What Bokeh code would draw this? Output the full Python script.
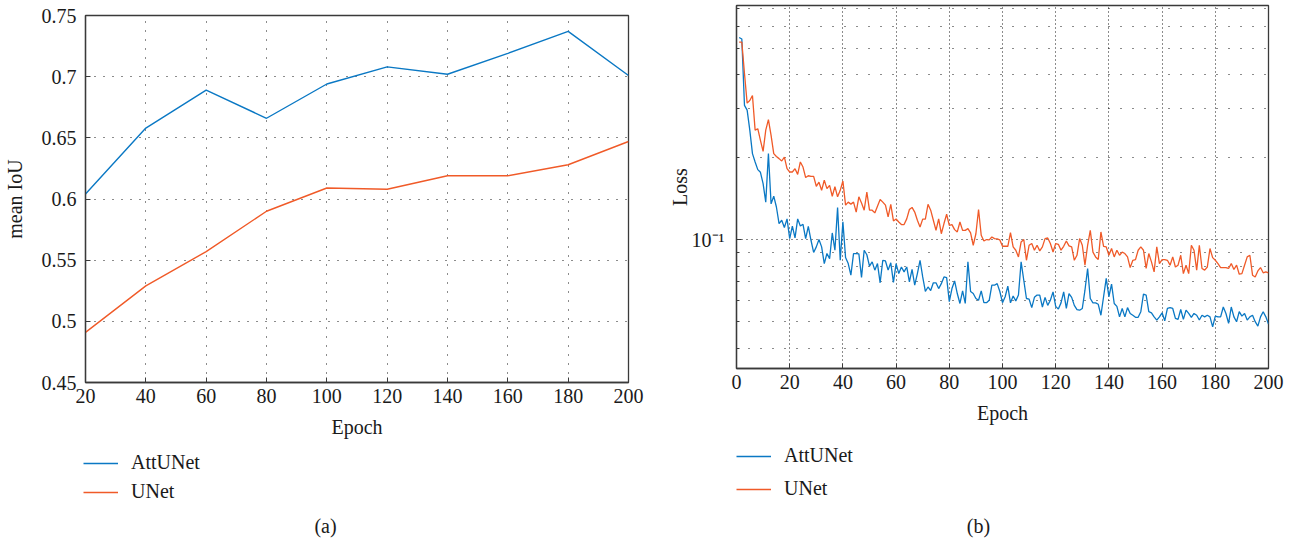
from bokeh.plotting import figure
from bokeh.models import (FixedTicker, Legend, LegendItem, Label,
                          CustomJSTickFormatter)
from bokeh.layouts import row, column
from bokeh.embed import file_html
from bokeh.resources import INLINE

# ---------------- data ----------------
# (a) mean IoU vs epoch
iou_epochs = [20, 40, 60, 80, 100, 120, 140, 160, 180, 200]
attunet_iou = [0.604, 0.658, 0.689, 0.666, 0.694, 0.708, 0.702, 0.719, 0.737, 0.701]
unet_iou = [0.491, 0.529, 0.557, 0.590, 0.609, 0.608, 0.619, 0.619, 0.628, 0.647]
iou_xticks = [20, 40, 60, 80, 100, 120, 140, 160, 180, 200]
iou_yticks = [0.45, 0.5, 0.55, 0.6, 0.65, 0.7, 0.75]

# (b) loss vs epoch (epochs 1..200)
loss_epochs = list(range(1, 201))
attunet_loss = [
    0.547, 0.540, 0.309, 0.297, 0.251, 0.206, 0.192, 0.180, 0.176, 0.160,
    0.137, 0.206, 0.135, 0.144, 0.1315, 0.1144, 0.1176, 0.1106, 0.119, 0.1008,
    0.112, 0.1014, 0.119, 0.112, 0.1137, 0.1008, 0.1117, 0.0994, 0.0897, 0.094,
    0.100, 0.094, 0.0817, 0.0889, 0.0852, 0.1057, 0.0914, 0.131, 0.084, 0.116,
    0.086, 0.0817, 0.0741, 0.0889, 0.0889, 0.0887, 0.0727, 0.0914, 0.088, 0.080,
    0.0829, 0.0773, 0.0817, 0.0695, 0.084, 0.0835, 0.0773, 0.0822, 0.0697, 0.0817,
    0.0751, 0.0794, 0.0762, 0.0794, 0.0701, 0.0778, 0.0681, 0.0751, 0.084, 0.073,
    0.0646, 0.0671, 0.0651, 0.0695, 0.0695, 0.0662, 0.069, 0.073, 0.0726, 0.0593,
    0.0662, 0.0706, 0.0635, 0.0584, 0.0649, 0.0584, 0.0829, 0.0646, 0.0635, 0.0609,
    0.060, 0.0649, 0.0588, 0.0588, 0.060, 0.0681, 0.0681, 0.069, 0.0646, 0.0588,
    0.0618, 0.0676, 0.0587, 0.0622, 0.0597, 0.0627, 0.0829, 0.071, 0.0609, 0.0606,
    0.0564, 0.0615, 0.0627, 0.0627, 0.0567, 0.0615, 0.0575, 0.060, 0.0644, 0.057,
    0.0557, 0.0587, 0.0644, 0.056, 0.0635, 0.0615, 0.0575, 0.0555, 0.0552, 0.056,
    0.0653, 0.0784, 0.0609, 0.0587, 0.0587, 0.058, 0.0529, 0.0618, 0.0721, 0.0618,
    0.0687, 0.0584, 0.057, 0.0522, 0.056, 0.0522, 0.0564, 0.0537, 0.0529, 0.052,
    0.052, 0.0545, 0.0632, 0.0627, 0.0545, 0.054, 0.0522, 0.0508, 0.0522, 0.054,
    0.0505, 0.056, 0.0564, 0.056, 0.0515, 0.0511, 0.0555, 0.0511, 0.0552, 0.0537,
    0.052, 0.0537, 0.0529, 0.0508, 0.0529, 0.0522, 0.0529, 0.0522, 0.048, 0.0525,
    0.0522, 0.0522, 0.0567, 0.0537, 0.0494, 0.0567, 0.0522, 0.0501, 0.0545, 0.0525,
    0.0537, 0.0508, 0.0522, 0.0529, 0.0501, 0.0483, 0.0522, 0.0545, 0.0522, 0.0491,
]
unet_loss = [
    0.526, 0.526, 0.404, 0.315, 0.322, 0.336, 0.251, 0.254, 0.2304, 0.21,
    0.251, 0.274, 0.240, 0.206, 0.201, 0.1975, 0.1936, 0.200, 0.1815, 0.1765,
    0.1765, 0.1815, 0.173, 0.192, 0.184, 0.1684, 0.171, 0.170, 0.170, 0.1565,
    0.162, 0.1513, 0.1646, 0.1535, 0.1577, 0.1439, 0.156, 0.1432, 0.1513, 0.1636,
    0.1335, 0.137, 0.1347, 0.137, 0.126, 0.1432, 0.136, 0.128, 0.149, 0.128,
    0.128, 0.1251, 0.1323, 0.140, 0.137, 0.1335, 0.1209, 0.1345, 0.1169, 0.1189,
    0.1159, 0.1134, 0.1134, 0.119, 0.1287, 0.131, 0.126, 0.1176, 0.1112, 0.1187,
    0.1187, 0.1345, 0.128, 0.1176, 0.108, 0.119, 0.105, 0.1144, 0.1237, 0.1127,
    0.1134, 0.1087, 0.1066, 0.1159, 0.108, 0.108, 0.1096, 0.1057, 0.0953, 0.105,
    0.1287, 0.1037, 0.0988, 0.100, 0.0997, 0.1022, 0.1008, 0.1005, 0.0997, 0.0945,
    0.0945, 0.0945, 0.106, 0.094, 0.0914, 0.0864, 0.098, 0.100, 0.084, 0.0953,
    0.0967, 0.0914, 0.0953, 0.0909, 0.094, 0.1008, 0.1013, 0.0967, 0.090, 0.0967,
    0.0961, 0.0914, 0.0945, 0.0988, 0.0948, 0.094, 0.084, 0.0876, 0.1008, 0.0953,
    0.0806, 0.0953, 0.108, 0.090, 0.0864, 0.0845, 0.1066, 0.0945, 0.094, 0.0876,
    0.0927, 0.0864, 0.0914, 0.0876, 0.090, 0.0889, 0.0864, 0.079, 0.084, 0.0845,
    0.0914, 0.094, 0.0914, 0.0784, 0.0889, 0.0829, 0.0762, 0.094, 0.0817, 0.0845,
    0.0845, 0.084, 0.0806, 0.0864, 0.0794, 0.0806, 0.0876, 0.0751, 0.0806, 0.0751,
    0.0953, 0.0914, 0.0773, 0.0953, 0.0784, 0.0773, 0.0794, 0.0927, 0.0859, 0.084,
    0.0817, 0.079, 0.079, 0.079, 0.0784, 0.0817, 0.0777, 0.0806, 0.0747, 0.0751,
    0.0806, 0.0864, 0.0876, 0.0741, 0.073, 0.0768, 0.079, 0.0756, 0.0762, 0.0756,
]
loss_xticks = [0, 20, 40, 60, 80, 100, 120, 140, 160, 180, 200]
loss_major_yticks = [0.1]
loss_minor_yticks = [0.04, 0.05, 0.06, 0.07, 0.08, 0.09, 0.2, 0.3, 0.4, 0.5, 0.6, 0.7]
loss_ylabels = {0.1: "10⁻¹"}

series_names = ["AttUNet", "UNet"]
captions = ["(a)", "(b)"]

# ---------------- style ----------------
FONT = "Liberation Serif"
BLUE = "#0a78c4"
ORANGE = "#f05a28"
FRAME = "#3a3a3a"
TXT = "#1a1a1a"
HT = 440   # height of the plot row
HB = 104   # height of the legend / caption row


def style_axis(ax, minor=False):
    ax.major_tick_in = 5
    ax.major_tick_out = 0
    ax.minor_tick_in = 3 if minor else 0
    ax.minor_tick_out = 0
    ax.axis_line_color = FRAME
    ax.axis_line_width = 1.3
    ax.major_tick_line_color = FRAME
    ax.minor_tick_line_color = FRAME
    ax.major_label_text_font = FONT
    ax.major_label_text_font_size = "20px"
    ax.major_label_text_color = TXT
    ax.axis_label_text_font = FONT
    ax.axis_label_text_font_size = "20px"
    ax.axis_label_text_font_style = "normal"
    ax.axis_label_text_color = TXT


def base_fig(width, x_range, y_range, borders, y_type="linear"):
    l, r, t, b = borders
    p = figure(width=width, height=HT, x_range=x_range, y_range=y_range,
               y_axis_type=y_type, output_backend="svg", toolbar_location=None,
               min_border_left=l, min_border_right=r, min_border_top=t,
               min_border_bottom=b, frame_align=False)
    p.outline_line_color = FRAME
    p.outline_line_width = 1.3
    p.background_fill_color = "white"
    p.border_fill_color = "white"
    p.xaxis.major_label_standoff = 6
    p.xaxis.axis_label_standoff = 10
    p.xaxis.axis_label = "Epoch"
    return p


def legend_fig(width, left, right, xs, ys_list, legend_top, spacing, caption):
    # lower strip: legend + sub-figure caption; the lines lie outside its ranges
    q = figure(width=width, height=HB, x_range=(-20, -10), y_range=(-20, -10),
               x_axis_location=None, y_axis_location=None,
               output_backend="svg", toolbar_location=None,
               min_border_left=left, min_border_right=right,
               min_border_top=0, min_border_bottom=0, frame_align=False)
    q.outline_line_color = None
    q.xgrid.visible = False
    q.ygrid.visible = False
    rs = [q.line(xs, ys, color=c, line_width=1.4)
          for ys, c in zip(ys_list, [BLUE, ORANGE])]
    leg_h = 20 + spacing + 20
    leg = Legend(items=[LegendItem(label=n, renderers=[r])
                        for n, r in zip(series_names, rs)],
                 location=(0, HB - legend_top - leg_h), orientation="vertical",
                 padding=0, margin=0, spacing=spacing,
                 border_line_color=None, background_fill_alpha=0,
                 label_text_font=FONT, label_text_font_size="20px",
                 label_text_color=TXT, glyph_width=35, glyph_height=20,
                 label_height=20, label_standoff=13)
    q.add_layout(leg)
    q.add_layout(Label(x=242, y=19, x_units="screen", y_units="screen",
                       text=caption, text_align="center", text_baseline="middle",
                       text_font=FONT, text_font_size="20px", text_color=TXT))
    return q


# ---------------- (a) ----------------
p1 = base_fig(658, (20, 200), (0.45, 0.75), (83, 30, 15, HT - 382))
p1.line(iou_epochs, attunet_iou, color=BLUE, line_width=1.4)
p1.line(iou_epochs, unet_iou, color=ORANGE, line_width=1.4)
p1.xaxis.ticker = FixedTicker(ticks=iou_xticks)
p1.yaxis.ticker = FixedTicker(ticks=iou_yticks)
p1.yaxis.formatter = CustomJSTickFormatter(
    code="return String(parseFloat(tick.toFixed(2)));")
p1.yaxis.axis_label = "mean IoU"
style_axis(p1.xaxis[0])
style_axis(p1.yaxis[0])
p1.yaxis.major_label_standoff = 9
p1.yaxis.axis_label_standoff = 13
for g in (p1.xgrid[0], p1.ygrid[0]):
    g.grid_line_color = "black"
    g.grid_line_dash = "1 8"
    g.grid_line_width = 1
    g.grid_line_alpha = 0.9

# ---------------- (b) ----------------
p2 = base_fig(636, (0, 200), (0.0338, 0.716), (78, 26, 5, HT - 368), y_type="log")
p2.line(loss_epochs, attunet_loss, color=BLUE, line_width=1.3)
p2.line(loss_epochs, unet_loss, color=ORANGE, line_width=1.3)
p2.xaxis.ticker = FixedTicker(ticks=loss_xticks)
p2.yaxis.ticker = FixedTicker(ticks=loss_major_yticks, minor_ticks=loss_minor_yticks)
p2.yaxis.major_label_overrides = loss_ylabels
p2.yaxis.axis_label = "Loss"
style_axis(p2.xaxis[0])
style_axis(p2.yaxis[0], minor=True)
p2.yaxis.major_label_standoff = 12
p2.yaxis.axis_label_standoff = -2
p2.xgrid.grid_line_color = "black"
p2.xgrid.grid_line_dash = "1 3"
p2.xgrid.grid_line_alpha = 0.9
p2.ygrid.grid_line_color = "black"
p2.ygrid.grid_line_dash = "1 4"
p2.ygrid.grid_line_alpha = 0.9
p2.ygrid.minor_grid_line_color = "black"
p2.ygrid.minor_grid_line_dash = "1 11"
p2.ygrid.minor_grid_line_alpha = 0.9

l1 = legend_fig(658, 83, 30, iou_epochs, [attunet_iou, unet_iou], 17, 6, captions[0])
l2 = legend_fig(636, 78, 26, loss_epochs, [attunet_loss, unet_loss], 10, 10, captions[1])

layout = column(row(p1, p2), row(l1, l2))
open("out.html", "w").write(file_html(layout, INLINE))
